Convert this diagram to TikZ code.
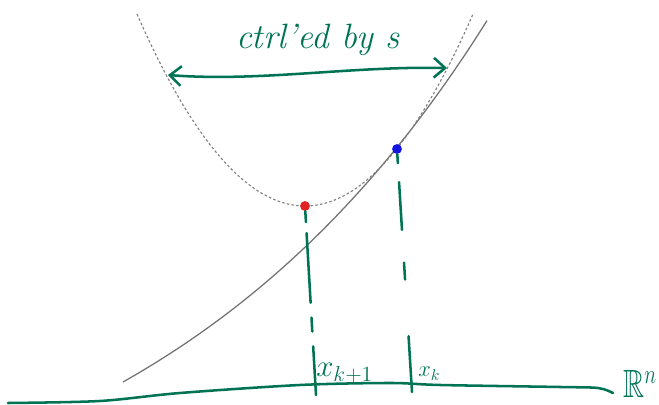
\RequirePackage{fix-cm}
\documentclass[tikz,border=0pt]{standalone}
\usepackage{amsmath}
\usepackage{amssymb}
\usetikzlibrary{arrows.meta, positioning}
\definecolor{penGreen}{RGB}{0,115,85}
\definecolor{dotRed}{RGB}{225,35,35}
\definecolor{dotBlue}{RGB}{20,20,225}

\begin{document}
\begin{tikzpicture}[
    x=0.025cm, y=-0.025cm,
    curve/.style={black!55, line width=0.9pt},
    model/.style={black!50, line width=0.8pt, dash pattern=on 1.8pt off 1.6pt},
    ink/.style={penGreen, line width=1.8pt, line cap=round, line join=round},
    iterate/.style={circle, inner sep=0pt, minimum size=7pt},
    annotation/.style={penGreen, inner sep=0pt}
]
\useasboundingbox (0,0) rectangle (659,405);

% Function and the model around the current iterate
\draw[curve] plot[domain=123:487, samples=80] (\x, {580-198*exp(0.00285*(\x-123))});
\draw[model] plot[domain=137:473, samples=80] (\x, {206-0.68*((\x-305)/10)^2});

% Define the nodes for the two iterates
\node[iterate, fill=dotRed] (xnext) at (305,206) {};
\node[iterate, fill=dotBlue] (xk) at (397,149) {};

% Feet of the projections on the axis
\coordinate (footnext) at (316,395);
\coordinate (footk) at (412,392);
\coordinate (arrL) at (168,75);
\coordinate (arrR) at (447,68);

% Axis
\draw[ink] plot[smooth, tension=0.5] coordinates {(8,403) (100,401) (180,393) (300,385) (390,383) (440,385) (560,387) (598,388) (613,393)};
\node[annotation, font=\fontsize{20.74}{22}\selectfont] (rn) at (640,384) {\scalebox{1}[1.35]{$\mathbb{R}^n$}};

% Draw the dashed projections
\draw[ink, dash pattern=on 7.8pt off 7.8pt on 49.6pt off 10.6pt on 9.9pt off 10.6pt on 40pt] (xnext) -- (footnext);
\draw[ink, dash pattern=on 6.4pt off 13.5pt on 34pt off 23.4pt on 12pt off 40.4pt on 45pt] (xk) -- (footk);

% Add the labels of the iterates
\node[annotation, font=\fontsize{22}{24}\selectfont, anchor=base west] (lnext) at (316,377) {$x_{k+1}$};
\node[annotation, font=\fontsize{16}{18}\selectfont, anchor=base west] (lk) at (418,377) {$x_k$};

% Trust region width
\draw[ink, {Straight Barb[length=8pt, width=14pt]}-{Straight Barb[length=8pt, width=14pt]}] (arrL) .. controls (260,82) and (350,66) .. (arrR);
\node[annotation, font=\fontsize{25}{27}\selectfont\itshape] (ctrl) at (318,40) {ctrl'ed by s};

\end{tikzpicture}
\end{document}
